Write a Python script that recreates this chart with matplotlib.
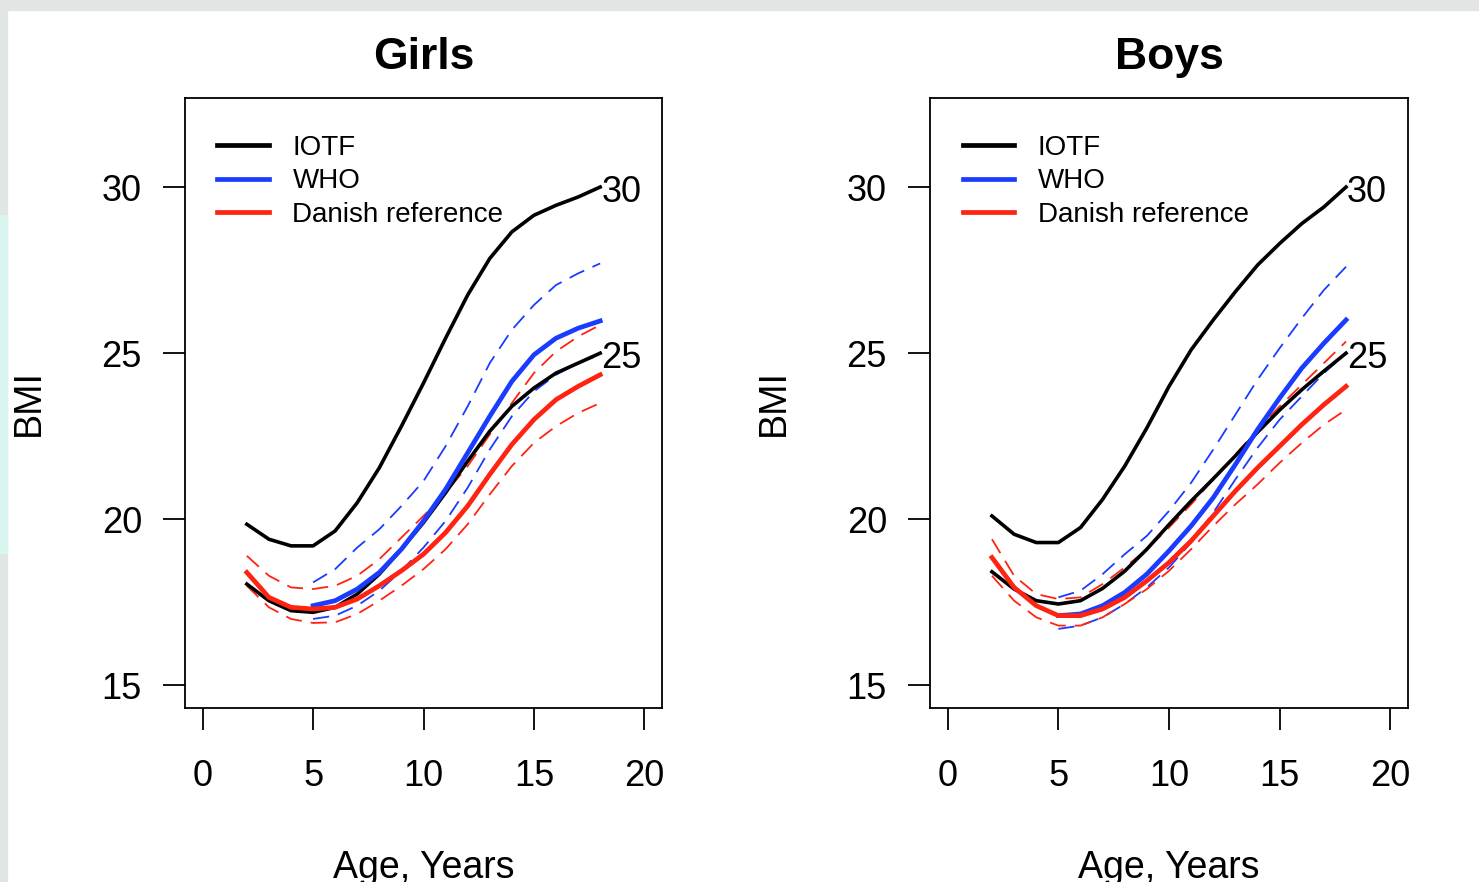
import matplotlib
matplotlib.use("Agg")
import matplotlib.pyplot as plt
from matplotlib.lines import Line2D
from matplotlib.patches import Rectangle

plt.rcParams['font.family'] = ['Liberation Sans', 'DejaVu Sans']

# ages (years)
ages = list(range(2, 19))
who_ages = list(range(5, 19))

# ---- Girls ----
girls_iotf30 = [19.85, 19.4, 19.2, 19.2, 19.65, 20.5, 21.55, 22.8, 24.1, 25.45, 26.75, 27.85, 28.65, 29.15, 29.45, 29.7, 30.0]
girls_iotf25 = [18.05, 17.55, 17.25, 17.2, 17.35, 17.75, 18.35, 19.1, 19.9, 20.8, 21.75, 22.65, 23.4, 23.95, 24.4, 24.7, 25.0]
girls_who = [17.4, 17.55, 17.9, 18.4, 19.1, 19.95, 20.9, 22.0, 23.1, 24.15, 24.95, 25.45, 25.75, 25.97]
girls_who_hi = [18.1, 18.5, 19.15, 19.7, 20.4, 21.15, 22.2, 23.4, 24.7, 25.7, 26.45, 27.05, 27.4, 27.7]
girls_who_lo = [17.0, 17.1, 17.4, 17.85, 18.45, 19.15, 19.95, 20.95, 22.1, 23.1, 23.85, 24.35, 24.7, 24.95]
girls_dk = [18.4, 17.65, 17.35, 17.3, 17.35, 17.6, 18.0, 18.45, 18.95, 19.6, 20.4, 21.35, 22.25, 23.0, 23.6, 24.0, 24.35]
girls_dk_hi = [18.9, 18.3, 17.95, 17.9, 18.0, 18.3, 18.8, 19.45, 20.1, 20.8, 21.6, 22.55, 23.5, 24.4, 25.05, 25.5, 25.85]
girls_dk_lo = [18.0, 17.35, 17.0, 16.88, 16.9, 17.15, 17.55, 18.0, 18.5, 19.1, 19.85, 20.75, 21.6, 22.3, 22.8, 23.2, 23.5]

# ---- Boys ----
boys_iotf30 = [20.1, 19.55, 19.3, 19.3, 19.75, 20.6, 21.6, 22.75, 24.0, 25.1, 26.0, 26.85, 27.65, 28.3, 28.9, 29.4, 30.0]
boys_iotf25 = [18.42, 17.9, 17.55, 17.45, 17.55, 17.92, 18.44, 19.1, 19.84, 20.55, 21.22, 21.91, 22.62, 23.29, 23.9, 24.46, 25.0]
boys_who = [17.1, 17.15, 17.4, 17.8, 18.35, 19.05, 19.8, 20.65, 21.65, 22.7, 23.65, 24.55, 25.3, 26.0]
boys_who_hi = [17.65, 17.85, 18.35, 18.95, 19.5, 20.25, 21.1, 22.1, 23.15, 24.2, 25.15, 26.05, 26.9, 27.6]
boys_who_lo = [16.7, 16.8, 17.05, 17.45, 17.95, 18.55, 19.3, 20.2, 21.2, 22.15, 23.0, 23.7, 24.4, 25.0]
boys_dk = [18.85, 17.95, 17.4, 17.1, 17.1, 17.3, 17.65, 18.15, 18.7, 19.35, 20.1, 20.85, 21.55, 22.2, 22.85, 23.45, 24.0]
boys_dk_hi = [19.4, 18.3, 17.75, 17.6, 17.65, 18.05, 18.55, 19.1, 19.75, 20.45, 21.2, 21.95, 22.7, 23.4, 24.05, 24.7, 25.35]
boys_dk_lo = [18.3, 17.55, 17.05, 16.8, 16.8, 17.05, 17.45, 17.9, 18.45, 19.1, 19.8, 20.45, 21.05, 21.7, 22.3, 22.85, 23.3]

legend_labels = ["IOTF", "WHO", "Danish reference"]
x_ticks = [0, 5, 10, 15, 20]
y_ticks = [15, 20, 25, 30]

BLUE = "#1a3cff"
RED = "#ff2312"
DASH = (9, 5)

fig = plt.figure(figsize=(14.79, 8.82), dpi=100)
# screenshot frame
fig.patches.append(Rectangle((0, 1 - 10 / 882), 1, 10 / 882, transform=fig.transFigure,
                             color="#e1e6e4", zorder=-5))
fig.patches.append(Rectangle((0, 0), 7 / 1479, 1, transform=fig.transFigure,
                             color="#e1e6e4", zorder=-5))
fig.patches.append(Rectangle((0, 1 - 553 / 882), 7 / 1479, (553 - 215) / 882,
                             transform=fig.transFigure, color="#d8f5f0", zorder=-4))


def panel(ax, title, iotf30, iotf25, who, who_hi, who_lo, dk, dk_hi, dk_lo):
    ax.plot(who_ages, who_hi, color=BLUE, lw=1.3, dashes=DASH)
    ax.plot(who_ages, who_lo, color=BLUE, lw=1.3, dashes=DASH)
    ax.plot(ages, dk_hi, color=RED, lw=1.3, dashes=DASH)
    ax.plot(ages, dk_lo, color=RED, lw=1.3, dashes=DASH)
    ax.plot(ages, iotf30, color="black", lw=2.6)
    ax.plot(ages, iotf25, color="black", lw=2.6)
    ax.plot(who_ages, who, color=BLUE, lw=3.4)
    ax.plot(ages, dk, color=RED, lw=3.4)
    ax.text(18.05, 29.85, "30", fontsize=26, ha="left", va="center")
    ax.text(18.05, 24.85, "25", fontsize=26, ha="left", va="center")

    ax.set_xlim(-0.8, 20.8)
    ax.set_ylim(14.32, 32.68)
    ax.set_xticks(x_ticks)
    ax.set_yticks(y_ticks)
    ax.tick_params(axis="both", direction="out", length=16, width=1.3, labelsize=26)
    ax.tick_params(axis="x", pad=21)
    ax.tick_params(axis="y", pad=15)
    for s in ax.spines.values():
        s.set_linewidth(1.3)
    ax.text(-0.327, 0.5, "BMI", fontsize=27, rotation=90, ha="center", va="center",
            transform=ax.transAxes)
    ax.text(0.5, -0.262, "Age, Years", fontsize=27, ha="center", va="center",
            transform=ax.transAxes)
    ax.text(0.5, 1.067, title, fontsize=32, fontweight="bold", ha="center",
            va="center", transform=ax.transAxes)

    handles = [Line2D([], [], color=c, lw=3.4) for c in ["black", BLUE, RED]]
    ax.legend(handles, legend_labels, loc="upper left", bbox_to_anchor=(0.068, 0.94),
              frameon=False, fontsize=20, handlelength=1.85, handletextpad=0.85,
              labelspacing=0.28, borderpad=0, borderaxespad=0)


ax1 = fig.add_axes([185 / 1479, 1 - 708 / 882, 477 / 1479, 610 / 882])
panel(ax1, "Girls", girls_iotf30, girls_iotf25, girls_who, girls_who_hi, girls_who_lo,
      girls_dk, girls_dk_hi, girls_dk_lo)
ax2 = fig.add_axes([930 / 1479, 1 - 708 / 882, 478 / 1479, 610 / 882])
panel(ax2, "Boys", boys_iotf30, boys_iotf25, boys_who, boys_who_hi, boys_who_lo,
      boys_dk, boys_dk_hi, boys_dk_lo)

fig.savefig("out.png", dpi=100)
